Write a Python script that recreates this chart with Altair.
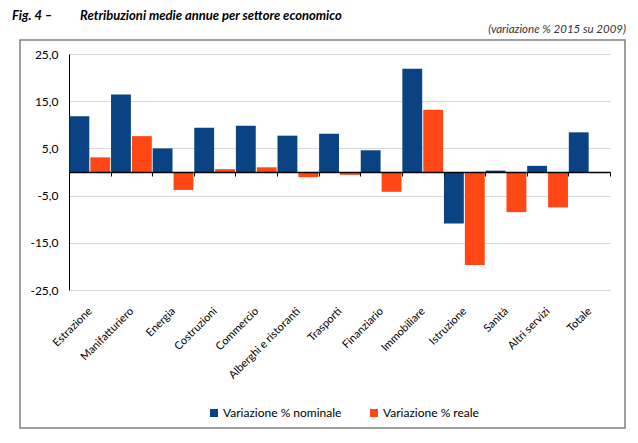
import altair as alt
import pandas as pd

categorie = ["Estrazione", "Manifatturiero", "Energia", "Costruzioni", "Commercio",
             "Alberghi e ristoranti", "Trasporti", "Finanziario", "Immobiliare",
             "Istruzione", "Sanità", "Altri servizi", "Totale"]
nominale = [11.8, 16.4, 5.0, 9.4, 9.8, 7.7, 8.1, 4.6, 21.9, -10.9, 0.3, 1.3, 8.4]
reale = [3.1, 7.6, -3.8, 0.6, 1.0, -1.1, -0.6, -4.2, 13.2, -19.7, -8.5, -7.5, -0.2]
serie = ["Variazione % nominale", "Variazione % reale"]
colori = ["#0A4383", "#FF4715"]
y_ticks = [25, 15, 5, -5, -15, -25]
y_dom = [-25, 25]

fig_label = "Fig. 4 –"
titolo = "Retribuzioni medie annue per settore economico"
sottotitolo = "(variazione % 2015 su 2009)"

rows = []
for c, n, r in zip(categorie, nominale, reale):
    rows.append({"cat": c, "serie": serie[0], "v": n})
    rows.append({"cat": c, "serie": serie[1], "v": r})
df = pd.DataFrame(rows)

FONT = "Lato"
W, H = 541, 236
zero_off = -H * (y_dom[1] / (y_dom[1] - y_dom[0]))

bars = alt.Chart(df).mark_bar().encode(
    x=alt.X("cat:N", sort=categorie,
            scale=alt.Scale(paddingInner=0, paddingOuter=0),
            axis=alt.Axis(title=None, labelAngle=-45, domain=True, domainColor="black",
                          domainWidth=1.5, ticks=True, tickColor="black", tickSize=4,
                          tickBand="extent", tickWidth=1, offset=zero_off,
                          labelPadding=-zero_off + 11, labelOffset=-4,
                          labelFont=FONT, labelFontSize=11,
                          labelColor="black", grid=False, zindex=1)),
    xOffset=alt.XOffset("serie:N", sort=serie,
                        scale=alt.Scale(paddingInner=0.05, paddingOuter=0.02)),
    y=alt.Y("v:Q", scale=alt.Scale(domain=y_dom, nice=False, zero=True),
            axis=alt.Axis(title=None, values=y_ticks,
                          labelExpr="(datum.value < 0 ? '-' : '') + replace(format(abs(datum.value), '.1f'), '.', ',')",
                          grid=True, gridColor="#d9d9d9", gridWidth=1,
                          domain=True, domainColor="black", domainWidth=1,
                          ticks=False, labelPadding=11, labelFont=FONT, labelFontSize=12,
                          labelColor="black")),
    color=alt.Color("serie:N", sort=serie,
                    scale=alt.Scale(domain=serie, range=colori),
                    legend=alt.Legend(title=None, orient="none", legendX=139, legendY=353,
                                      direction="horizontal", symbolType="square",
                                      symbolSize=64, symbolStrokeWidth=0,
                                      labelFont=FONT, labelFontSize=12, labelColor="black",
                                      columnPadding=26, labelOffset=3)),
)

box = alt.Chart(pd.DataFrame({"k": [1]})).mark_rect(
    fillOpacity=0, stroke="#808080", strokeWidth=1.5
).encode(x=alt.value(-49), x2=alt.value(556), y=alt.value(-14), y2=alt.value(374))

t1 = alt.Chart(pd.DataFrame({"t": [fig_label]})).mark_text(
    font=FONT, fontSize=13, fontWeight="bold", fontStyle="italic", align="left",
    baseline="alphabetic", color="black"
).encode(x=alt.value(-57), y=alt.value(-34), text="t:N")

t2 = alt.Chart(pd.DataFrame({"t": [titolo]})).mark_text(
    font=FONT, fontSize=13, fontWeight="bold", fontStyle="italic", align="left",
    baseline="alphabetic", color="black"
).encode(x=alt.value(11), y=alt.value(-34), text="t:N")

t3 = alt.Chart(pd.DataFrame({"t": [sottotitolo]})).mark_text(
    font=FONT, fontSize=11.5, fontStyle="italic", align="right",
    baseline="alphabetic", color="#333333"
).encode(x=alt.value(557), y=alt.value(-21), text="t:N")

chart = alt.layer(bars, box, t1, t2, t3).properties(
    width=W, height=H,
    padding={"left": 61, "top": 46, "right": 18, "bottom": 145},
    autosize=alt.AutoSizeParams(type="none"),
    background="white",
).configure_view(stroke=None)

chart.save("out.html", embed_options={"renderer": "svg", "actions": False})
